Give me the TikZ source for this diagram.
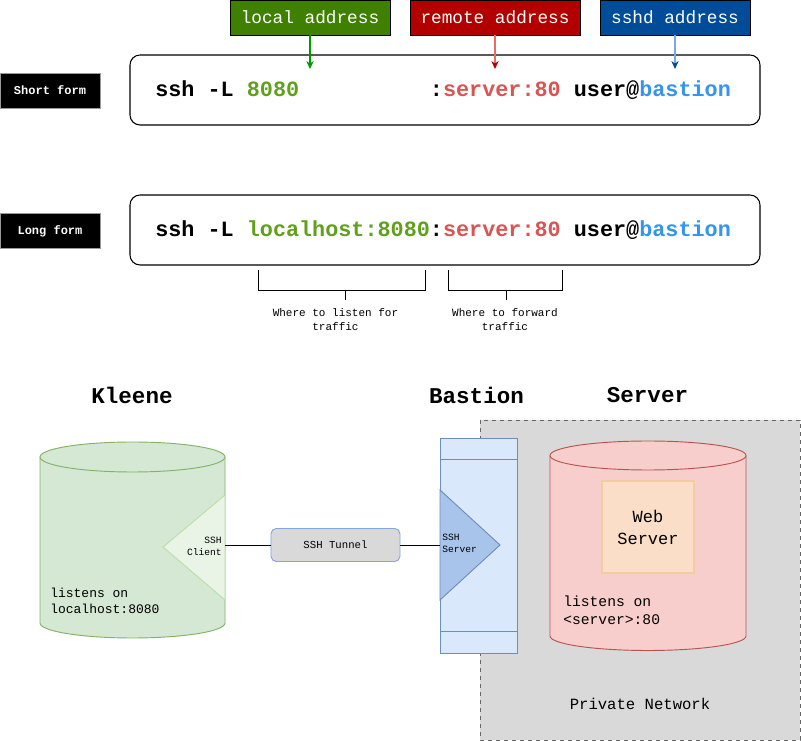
\documentclass[tikz,border=0pt]{standalone}
\usepackage{fontspec}
\setmainfont{Liberation Mono}
\usetikzlibrary{positioning, arrows.meta}
\definecolor{localTag}{RGB}{64,128,0}
\definecolor{remoteTag}{RGB}{178,0,0}
\definecolor{sshdTag}{RGB}{0,76,153}
\definecolor{localLine}{RGB}{0,153,0}
\definecolor{remoteLine}{RGB}{234,107,102}
\definecolor{sshdLine}{RGB}{126,166,224}
\definecolor{cmdGreen}{RGB}{96,160,28}
\definecolor{cmdRed}{RGB}{217,84,84}
\definecolor{cmdBlue}{RGB}{52,148,238}
\definecolor{kleeneFill}{RGB}{213,232,212}
\definecolor{kleeneDraw}{RGB}{130,179,102}
\definecolor{clientFill}{RGB}{233,243,230}
\definecolor{clientDraw}{RGB}{185,224,165}
\definecolor{bastionFill}{RGB}{218,232,252}
\definecolor{bastionDraw}{RGB}{108,142,191}
\definecolor{serverTri}{RGB}{169,196,235}
\definecolor{serverFill}{RGB}{248,206,204}
\definecolor{serverDraw}{RGB}{184,84,80}
\definecolor{webFill}{RGB}{250,222,200}
\definecolor{webDraw}{RGB}{242,204,162}
\definecolor{netFill}{RGB}{217,217,217}

\begin{document}
\begin{tikzpicture}[
    x=0.75pt, y=-0.75pt,
    addrtag/.style={
        rectangle, draw=black, fill=#1, text=white, inner sep=0pt,
        minimum height=26.25pt, font=\fontsize{13.3pt}{15pt}\selectfont
    },
    formtag/.style={
        rectangle, draw=black!40, fill=black, text=white, inner sep=0pt,
        minimum width=75pt, minimum height=26.25pt,
        font=\fontsize{9pt}{11pt}\selectfont\bfseries
    },
    cmdbox/.style={
        rectangle, rounded corners=7.5pt, draw=black, line width=0.8pt,
        minimum width=472.5pt, minimum height=52.5pt
    },
    cmdtext/.style={inner sep=0pt, font=\fontsize{16.35pt}{19pt}\selectfont\bfseries},
    pointer/.style 2 args={draw=#1, line width=0.8pt, -{Stealth[length=6pt, width=5.5pt, color=#2]}},
    bracket/.style={draw=black, line width=0.6pt},
    note/.style={align=center, inner sep=0pt, font=\fontsize{8.25pt}{10.5pt}\selectfont},
    title/.style={inner sep=0pt, font=\fontsize{16.9pt}{19pt}\selectfont\bfseries},
    drum/.style={fill=#1Fill, draw=#1Draw, line width=0.7pt},
    listen/.style={anchor=west, align=left, inner sep=0pt},
    portlabel/.style={inner sep=0pt, font=\fontsize{7.2pt}{9pt}\selectfont},
    tunnel/.style={
        rectangle, rounded corners=4pt, fill=netFill, draw=sshdLine, line width=0.7pt,
        minimum width=96.75pt, minimum height=24.75pt, font=\fontsize{8pt}{10pt}\selectfont
    },
    link/.style={draw=black, line width=0.7pt},
    bastion/.style={
        rectangle, fill=bastionFill, draw=bastionDraw, line width=0.7pt,
        minimum width=57.75pt, minimum height=161.25pt
    },
    webbox/.style={
        rectangle, fill=webFill, draw=webDraw, line width=1pt, align=center,
        minimum width=69pt, minimum height=69pt, font=\fontsize{12.75pt}{16.5pt}\selectfont
    }
]
\useasboundingbox (0,0) rectangle (801,741);

% === Address tags ===
\node[addrtag=localTag, minimum width=120pt] (tagLocal) at (310,17.5) {local address};
\node[addrtag=remoteTag, minimum width=127.5pt] (tagRemote) at (495,17.5) {remote address};
\node[addrtag=sshdTag, minimum width=112.5pt] (tagSshd) at (675,17.5) {sshd address};

% === Short form ===
\node[formtag] (shortTag) at (50,90.5) {Short form};
\node[cmdbox] (shortCmd) at (445,90) {};
\node[cmdtext, anchor=base west] (shortText) at (155,97)
    {ssh -L \textcolor{cmdGreen}{8080}\phantom{localhost:}:\textcolor{cmdRed}{server:80} user@\textcolor{cmdBlue}{bastion}};

\coordinate (localTip) at (310,69);
\coordinate (remoteTip) at (495,69);
\coordinate (sshdTip) at (675,69);
\draw[pointer={localLine}{localLine}] (tagLocal) -- (localTip);
\draw[pointer={remoteLine}{remoteTag}] (tagRemote) -- (remoteTip);
\draw[pointer={sshdLine}{sshdTag}] (tagSshd) -- (sshdTip);

% === Long form ===
\node[formtag] (longTag) at (50,231) {Long form};
\node[cmdbox] (longCmd) at (445,230) {};
\node[cmdtext, anchor=base west] (longText) at (155,237)
    {ssh -L \textcolor{cmdGreen}{localhost:8080}:\textcolor{cmdRed}{server:80} user@\textcolor{cmdBlue}{bastion}};

% brackets under the long form
\draw[bracket] (258,270) -- (258,290) -- (425,290) -- (425,270);
\draw[bracket] (345,290) -- (345,300);
\node[note] (listenNote) at (335.5,320) {Where to listen for\\traffic};
\draw[bracket] (448,270) -- (448,290) -- (562,290) -- (562,270);
\draw[bracket] (506,290) -- (506,300);
\node[note] (forwardNote) at (505,320) {Where to forward\\traffic};

% === Hosts ===
\node[title] (kleeneTitle) at (132,395) {Kleene};
\node[title] (bastionTitle) at (476.5,395) {Bastion};
\node[title] (serverTitle) at (647.5,395) {Server};

% private network
\draw[fill=netFill, draw=black!60, dashed, line width=0.7pt] (480,420) rectangle (800,740);
\node[font=\fontsize{11.7pt}{14pt}\selectfont] (netLabel) at (640,704) {Private Network};

% Kleene
\draw[drum=kleene] (40,457) -- (40,623) arc[start angle=180, end angle=0, x radius=92.5, y radius=15]
    -- (225,457) arc[start angle=0, end angle=-180, x radius=92.5, y radius=15] -- cycle;
\draw[drum=kleene, fill=none] (40,457) arc[start angle=180, end angle=0, x radius=92.5, y radius=15];
\draw[fill=clientFill, draw=clientDraw, line width=0.7pt] (225,495) -- (163,547) -- (225,600) -- cycle;
\node[portlabel, anchor=east, align=right] (clientLabel) at (222,546) {SSH\\Client};
\node[listen, font=\fontsize{9.75pt}{12pt}\selectfont] (kleeneListen) at (50,601) {listens on\\localhost:8080};
\coordinate (clientPort) at (225,545);

% tunnel
\node[tunnel] (tunnel) at (335.5,545) {SSH Tunnel};
\draw[link] (clientPort) -- (tunnel);

% Bastion
\node[bastion] (bastion) at (478.5,545.5) {};
\draw[draw=bastionDraw, line width=0.7pt] (440,459) -- (517,459);
\draw[draw=bastionDraw, line width=0.7pt] (440,631) -- (517,631);
\draw[fill=serverTri, draw=bastionDraw, line width=0.7pt] (440,490) -- (500,545) -- (440,600) -- cycle;
\node[portlabel, anchor=west, align=left] (serverLabel) at (442,543) {SSH\\Server};
\coordinate (serverPort) at (440,545);
\draw[link] (tunnel) -- (serverPort);

% Server
\draw[drum=server] (550,455.5) -- (550,636) arc[start angle=180, end angle=0, x radius=98, y radius=14.5]
    -- (746,455.5) arc[start angle=0, end angle=-180, x radius=98, y radius=14.5] -- cycle;
\draw[drum=server, fill=none] (550,455.5) arc[start angle=180, end angle=0, x radius=98, y radius=14.5];
\node[webbox] (webServer) at (648,527) {Web\\Server};
\node[listen, font=\fontsize{11pt}{13.5pt}\selectfont] (serverListen) at (563,610) {listens on\\<server>:80};

\end{tikzpicture}
\end{document}
